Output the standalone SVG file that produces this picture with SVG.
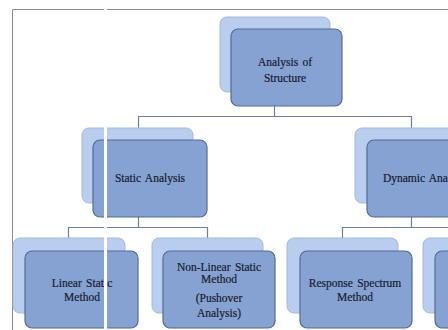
<svg xmlns="http://www.w3.org/2000/svg" width="448" height="330" viewBox="0 0 448 330">
<style>
.back{fill:#b9cdef;stroke:#a2b8de;stroke-width:1}
.front{fill:#86a2d3;stroke:#536b92;stroke-width:1.2}
.conn{fill:none;stroke:#6d7f9c;stroke-width:1.2}
.page{fill:none;stroke:#8c8c8c;stroke-width:1}
text{font-family:"Liberation Serif","Times New Roman",serif;font-size:11.5px;fill:#18202e;stroke:#18202e;stroke-width:0.2;text-anchor:middle;word-spacing:1.5px}
</style>
<rect width="448" height="330" fill="#ffffff"/>
<g id="page">
<path class="page" d="M12.5 330 V9.5 H448"/>
</g>
<g id="connectors">
<path class="conn" d="M274.5 106 V116.5 M138.5 128 V116.5 H411.5 V128"/>
<path class="conn" d="M138.5 217 V227.5 M68.5 238 V227.5 H207.5 V238"/>
<path class="conn" d="M411.5 217 V227.5 M342.5 238 V227.5 H478.5 V238"/>
</g>
<g id="n-root">
<rect class="back" x="220" y="17" width="110" height="75" rx="7"/>
<rect class="front" x="231" y="29" width="111" height="77" rx="7"/>
<text x="285" y="66">Analysis of</text>
<text x="285" y="82">Structure</text>
</g>
<g id="n-static">
<rect class="back" x="82" y="128" width="111" height="75" rx="7"/>
<rect class="front" x="93" y="140" width="114" height="77" rx="7"/>
<text x="150" y="182">Static Analysis</text>
</g>
<g id="n-dynamic">
<rect class="back" x="355" y="128" width="111" height="75" rx="7"/>
<rect class="front" x="367" y="140" width="114" height="77" rx="7"/>
<text x="426" y="182">Dynamic Analysis</text>
</g>
<g id="n-linear">
<rect class="back" x="13" y="238" width="112" height="75" rx="7"/>
<rect class="front" x="25" y="251" width="113" height="77" rx="7"/>
<text x="82" y="287">Linear Static</text>
<text x="82" y="301">Method</text>
</g>
<g id="n-nonlinear">
<rect class="back" x="152" y="238" width="111" height="75" rx="7"/>
<rect class="front" x="163" y="251" width="112" height="77" rx="7"/>
<text x="219" y="271">Non-Linear Static</text>
<text x="219" y="283">Method</text>
<text x="219" y="302">(Pushover</text>
<text x="219" y="317">Analysis)</text>
</g>
<g id="n-response">
<rect class="back" x="287" y="238" width="111" height="75" rx="7"/>
<rect class="front" x="300" y="251" width="112" height="77" rx="7"/>
<text x="355" y="287">Response Spectrum</text>
<text x="355" y="301">Method</text>
</g>
<g id="n-fourth">
<rect class="back" x="423" y="238" width="111" height="75" rx="7"/>
<rect class="front" x="435" y="251" width="112" height="77" rx="7"/>
</g>
<rect x="104" y="0" width="3" height="330" fill="#ffffff"/>
</svg>
